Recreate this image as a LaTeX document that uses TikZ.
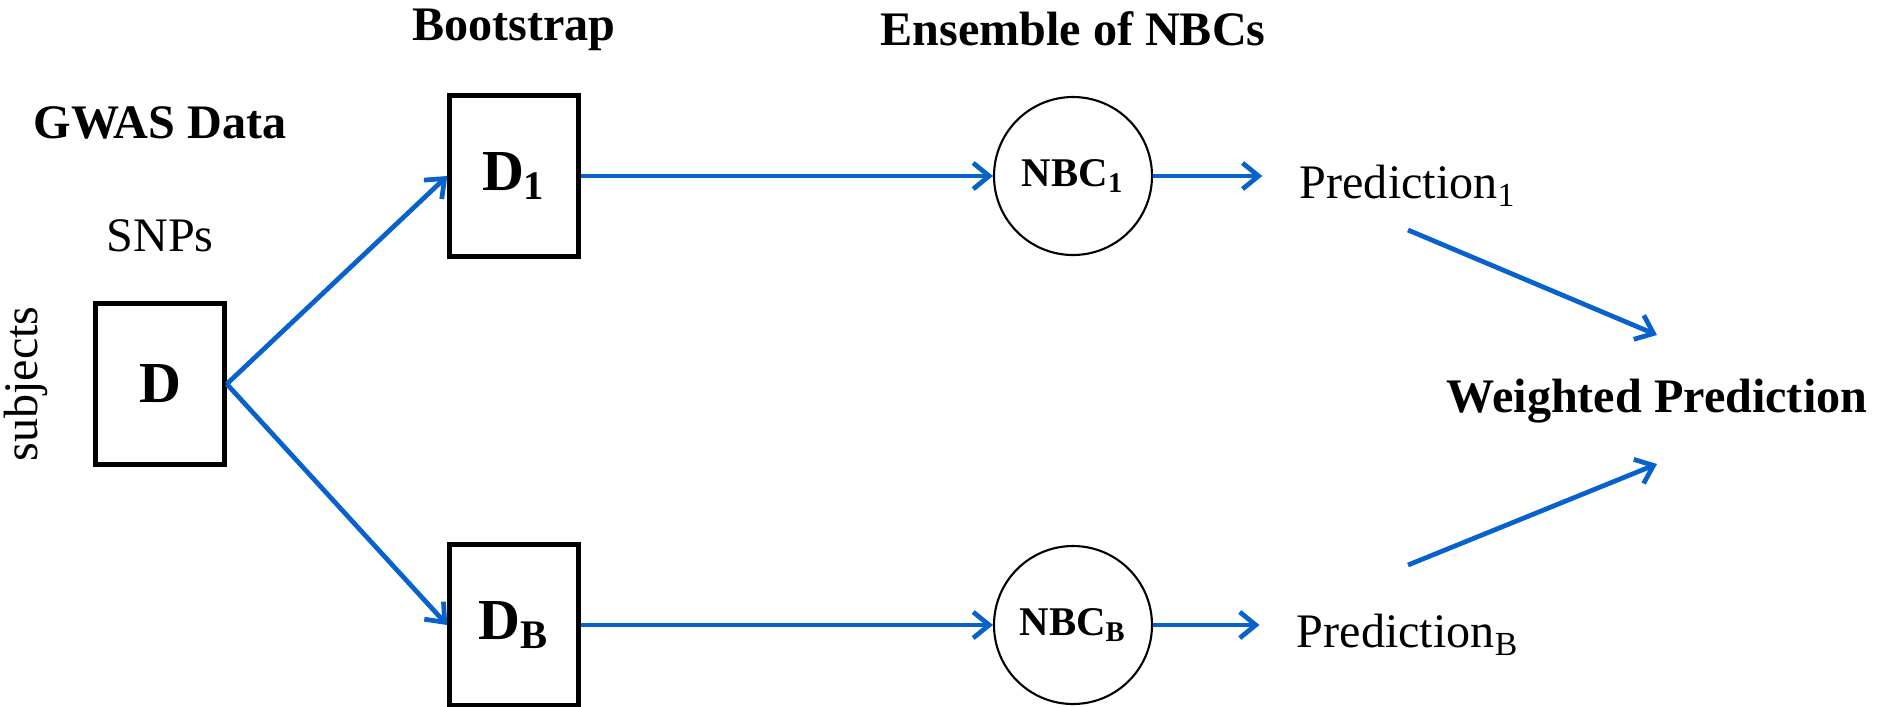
\documentclass[tikz,border=0pt]{standalone}
\usepackage{fontspec}
\setmainfont{Liberation Serif}
\usetikzlibrary{arrows.meta}

\definecolor{flowblue}{RGB}{8,98,204}

\tikzset{
	databox/.style={draw, rectangle, line width=1.3pt, minimum width=1.29cm, minimum height=1.61cm, font=\fontsize{16.5}{18}\selectfont\bfseries},
	nbcnode/.style={draw, circle, line width=0.6pt, minimum size=1.58cm, inner sep=0pt, font=\fontsize{11.6}{13}\selectfont\bfseries},
	flow/.style={draw=flowblue, line width=1.35pt, -{Straight Barb[length=1.6mm,width=2.6mm]}},
	headtext/.style={font=\fontsize{13.7}{16}\selectfont\bfseries},
	bodytext/.style={font=\fontsize{13.7}{16}\selectfont},
}

\begin{document}
\begin{tikzpicture}
	\useasboundingbox (-1.60,3.84) rectangle (17.19,-3.22);

	\node[databox](D){D};
	\node[bodytext, rotate=90] (SUBJ) at ([xshift=-1.34cm]D.center) {subjects};
	\node[bodytext, above of=D, node distance=1.48cm](SNP){SNPs};
	\node[headtext, above of=SNP, node distance=1.13cm](GWAS){GWAS Data};
	
	\node[databox, right of=D, node distance=3.54cm, yshift=2.08cm](D1){D\textsubscript{1}};
	\node[databox, right of=D, node distance=3.54cm, yshift=-2.41cm](DB){D\textsubscript{B}};
	\node[headtext, above of=D1, node distance=1.46cm](BOOT){Bootstrap};
	
	\node[nbcnode, right of=D1, node distance=5.59cm](NBC1){NBC\textsubscript{1}};
	\node[nbcnode, right of=DB, node distance=5.59cm](NBCB){NBC\textsubscript{B}};
	\node[headtext, above of=NBC1, node distance=1.47cm](ENS){Ensemble of NBCs};
	
	\node[bodytext, right of=NBC1, node distance=3.35cm, yshift=-0.1cm](P1){Prediction\textsubscript{1}};
	\node[bodytext, right of=NBCB, node distance=3.35cm, yshift=-0.1cm](PB){Prediction\textsubscript{B}};
	\node[headtext, right of=D, node distance=14.97cm, yshift=-0.17cm](WP){Weighted Prediction};
	
	\draw[flow] (D.east) -- (D1.west);
	\draw[flow] (D.east) -- (DB.west);
	
	\draw[flow] (D1.east) -- (NBC1.west);
	\draw[flow] (DB.east) -- (NBCB.west);
	
	\draw[flow, shorten >=0.25cm] (NBC1.east) -- (NBC1.east -| P1.west);
	\draw[flow, shorten >=0.25cm] (NBCB.east) -- (NBCB.east -| PB.west);
	
	\draw[flow] ([yshift=-0.44cm]P1.center) -- ([yshift=0.66cm]WP.center);
	\draw[flow] ([yshift=0.70cm]PB.center) -- ([yshift=-0.63cm]WP.center);
\end{tikzpicture}
\end{document}
